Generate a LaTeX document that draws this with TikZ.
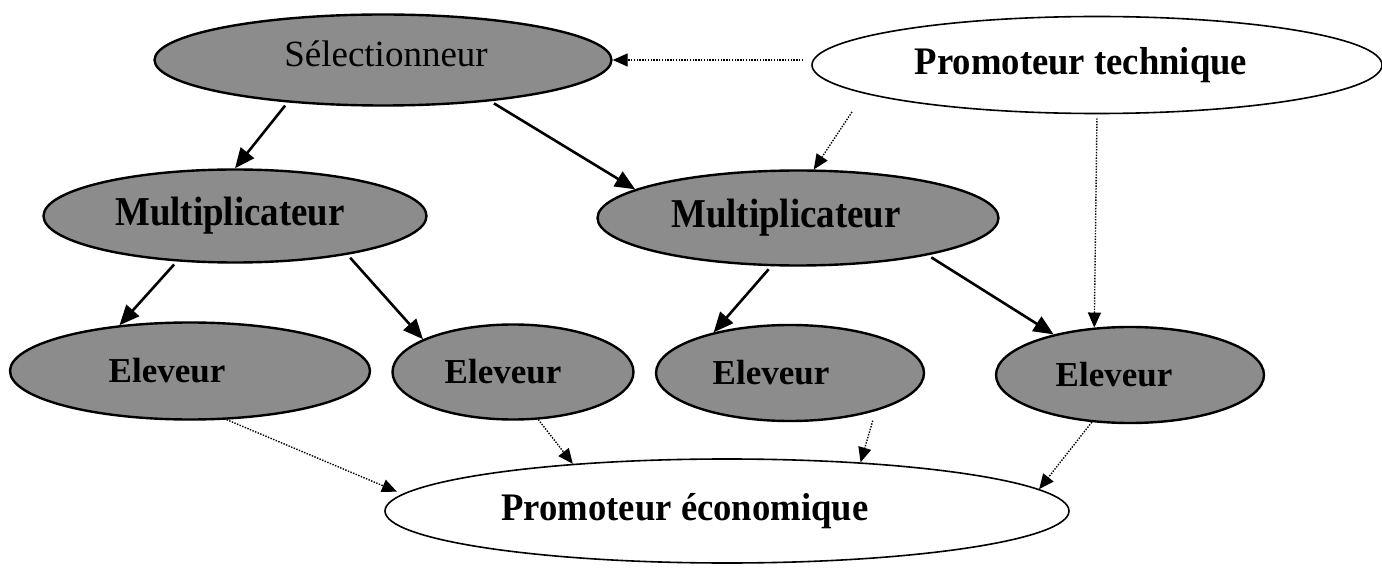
\documentclass[tikz,border=0pt]{standalone}
\usepackage{fontspec}
\setmainfont{Liberation Serif}
\usepackage{graphicx}
\usetikzlibrary{arrows.meta,shapes.geometric}
\tikzset{
  grayell/.style={ellipse, draw=black, line width=1.2pt, fill=black!45, inner sep=0pt},
  whiteell/.style={ellipse, draw=black, line width=0.8pt, fill=white, inner sep=0pt},
  solidarrow/.style={line width=1.3pt, -{Triangle[length=10pt,width=8.5pt]}, shorten <=2pt},
  dotarrow/.style={line width=0.7pt, dash pattern=on 0.7pt off 0.7pt, -{Triangle[length=7.5pt,width=6.5pt]}},
  selfont/.style={font=\fontsize{18.5}{20}\selectfont},
  mulfont/.style={font=\fontsize{20.5}{22}\selectfont\bfseries},
  elfont/.style={font=\fontsize{17.5}{19}\selectfont\bfseries},
  promfont/.style={font=\fontsize{19.5}{21}\selectfont\bfseries}
}
\begin{document}
\begin{tikzpicture}[x=0.5pt,y=-0.5pt]
\useasboundingbox (0,0) rectangle (1382,572);
% nodes
\node[grayell, minimum width=228.5pt, minimum height=45.5pt,
  label={[selfont, xshift=1.5pt, yshift=3pt]center:Sélectionneur}] (sel) at (383,60) {};
\node[whiteell, minimum width=285pt, minimum height=48.5pt,
  label={[promfont, xshift=-8pt]center:\scalebox{0.94}[1]{Promoteur technique}}] (pt) at (1097,65) {};
\node[grayell, minimum width=191.5pt, minimum height=46.5pt,
  label={[mulfont, xshift=-2.5pt]center:\scalebox{0.9}[1]{Multiplicateur}}] (mulL) at (235,216) {};
\node[grayell, minimum width=200.5pt, minimum height=47.5pt,
  label={[mulfont, xshift=-6pt]center:\scalebox{0.9}[1]{Multiplicateur}}] (mulR) at (798,218) {};
\node[grayell, minimum width=180pt, minimum height=48.5pt,
  label={[elfont, xshift=-11.5pt]center:Eleveur}] (el1) at (190,371) {};
\node[grayell, minimum width=120.5pt, minimum height=47.5pt,
  label={[elfont, xshift=-5pt]center:Eleveur}] (el2) at (513,372) {};
\node[grayell, minimum width=134pt, minimum height=48pt,
  label={[elfont, xshift=-9.5pt]center:Eleveur}] (el3) at (790,373) {};
\node[grayell, minimum width=134pt, minimum height=48pt,
  label={[elfont, xshift=-8pt]center:Eleveur}] (el4) at (1130,375) {};
\node[whiteell, minimum width=342pt, minimum height=52pt,
  label={[promfont, xshift=-21pt]center:\scalebox{0.94}[1]{Promoteur économique}}] (pe) at (727,511) {};
% solid arrows
\draw[solidarrow] (sel.204.6) -- (mulL.90);
\draw[solidarrow] (sel.339.6) -- (mulR.170.2);
\draw[solidarrow] (mulL.218.5) -- (el1.147.9);
\draw[solidarrow] (mulL.341.6) -- (el2.160.7);
\draw[solidarrow] (mulR.241.1) -- (el3.152.5);
\draw[solidarrow] (mulR.344.4) -- (el4.152.1);
% dotted arrows
\draw[dotarrow, shorten <=4pt] (pt.west |- sel.east) -- (sel.east);
\draw[dotarrow, shorten <=11pt] (pt.187.1) -- (mulR.72.5);
\draw[dotarrow, shorten <=2pt] (pt.south) -- (el4.127.1);
\draw[dotarrow, shorten >=3pt] (el1.307.2) -- (pe.177.9);
\draw[dotarrow] (el2.298.3) -- (pe.163);
\draw[dotarrow, shorten <=5pt] (el3.336.4) -- (pe.20.1);
\draw[dotarrow] (el4.231.3) -- (pe.4.9);
\end{tikzpicture}
\end{document}
